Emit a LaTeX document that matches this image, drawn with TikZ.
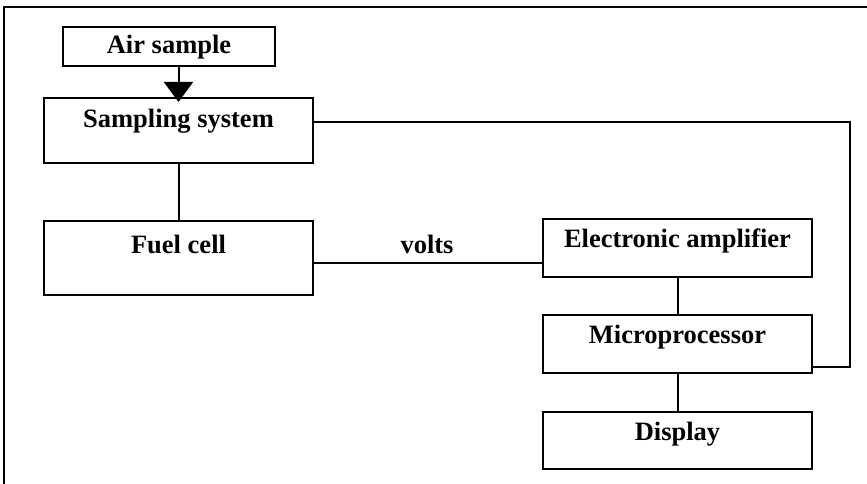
\documentclass[tikz,border=0pt]{standalone}
\usepackage{fontspec}
\setmainfont{Liberation Serif}
\usetikzlibrary{arrows.meta}
\tikzset{
  box/.style={draw, line width=2pt, inner sep=0pt, anchor=north west},
  lbl/.style={font=\fontsize{26.5}{30}\selectfont\bfseries, inner sep=0pt, anchor=base},
  wire/.style={line width=2pt},
}
\begin{document}
\begin{tikzpicture}[x=1pt,y=-1pt]
\useasboundingbox (0,0) rectangle (867,484);
% outer frame (top and left edges)
\draw[line width=2.5pt] (4,484) -- (4,7) -- (867,7);

% boxes
\node[box, minimum width=212pt, minimum height=39pt] (air)   at (62,26)   {};
\node[box, minimum width=269pt, minimum height=65pt] (samp)  at (43,97)   {};
\node[box, minimum width=269pt, minimum height=74pt] (fuel)  at (43,220)  {};
\node[box, minimum width=269pt, minimum height=58pt] (elec)  at (542,218) {};
\node[box, minimum width=269pt, minimum height=58pt] (micro) at (542,314) {};
\node[box, minimum width=269pt, minimum height=57pt] (disp)  at (542,411) {};

% box texts
\node[lbl] (airT)   at ([yshift=-28pt]air.north)   {Air sample};
\node[lbl] (sampT)  at ([yshift=-31pt]samp.north)  {Sampling system};
\node[lbl] (fuelT)  at ([yshift=-33pt]fuel.north)  {Fuel cell};
\node[lbl] (elecT)  at ([yshift=-29pt]elec.north)  {Electronic amplifier};
\node[lbl] (microT) at ([yshift=-29pt]micro.north) {Microprocessor};
\node[lbl] (dispT)  at ([yshift=-29pt]disp.north)  {Display};
\node[lbl] (volts)  at (427,253) {volts};

% connectors
\draw[wire, -{Triangle[width=29pt,length=20pt]}] (air.south -| samp.north) -- ([yshift=-5pt]samp.north);
\draw[wire] (samp.south) -- (fuel.north);
\draw[wire] ([yshift=-5pt]fuel.east) -- ([yshift=-5pt]fuel.east -| elec.west);
\draw[wire] (elec.south) -- (micro.north);
\draw[wire] (micro.south) -- (disp.north);
\coordinate (fb) at (850,122);
\draw[wire] ([yshift=-25pt]samp.north east) -- (fb) |- ([yshift=7pt]micro.south east);
\end{tikzpicture}
\end{document}
